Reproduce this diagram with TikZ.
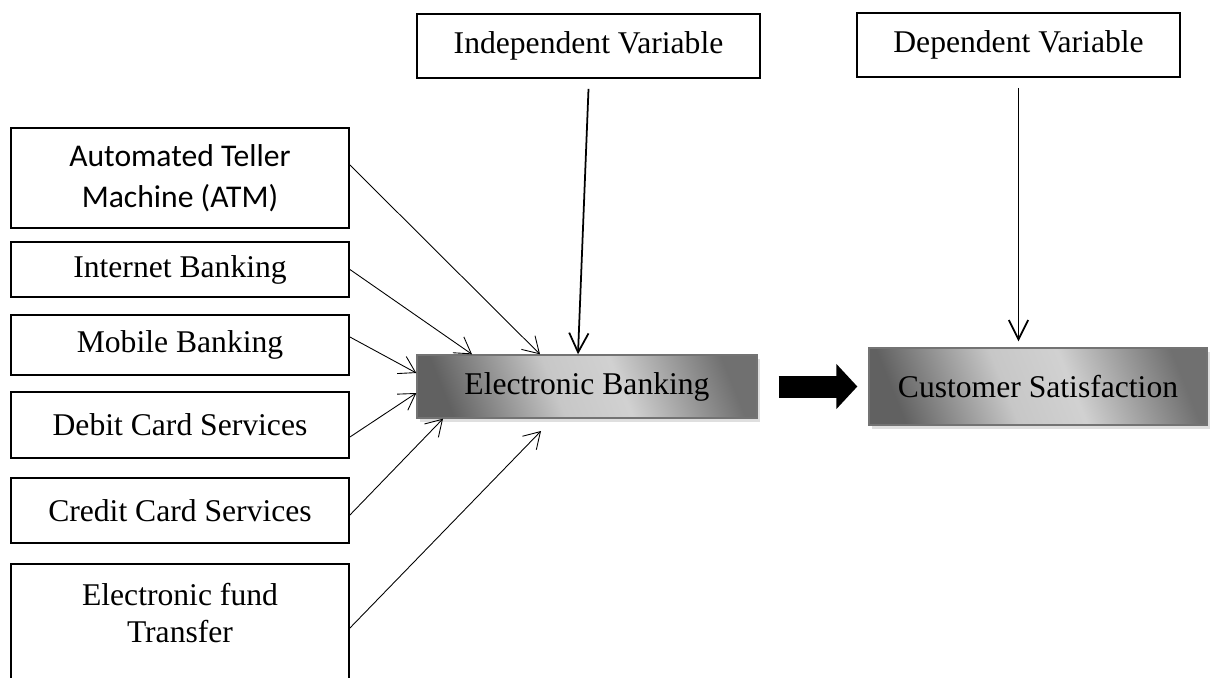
\documentclass[tikz,border=0pt]{standalone}
\usepackage{fontspec}
\setmainfont{Liberation Serif}
\newfontfamily\calibri{Carlito}
\usepackage{tikz}
\usetikzlibrary{positioning, arrows.meta, shadows, calc}
\pgfdeclareverticalshading{ebshade}{100bp}{color(0bp)=(black!62); color(24bp)=(black!62); color(44bp)=(black!22); color(56bp)=(black!18); color(76bp)=(black!56); color(100bp)=(black!56)}
\tikzset{
>={Straight Barb[length=9pt,width=11pt]}, % open arrow heads
every node/.style={font=\fontsize{18}{21}\selectfont},
factor/.style={draw, line width=1.1pt, minimum width=6.76cm, align=center}, % boxes on the left
varbox/.style={draw, line width=1.1pt, minimum height=1.28cm}, % variable labels on top
shadedbox/.style={draw=black!55, line width=0.8pt, shade, shading=ebshade, shading angle=-68,
  drop shadow={shadow xshift=1.5pt, shadow yshift=-2pt, fill=black!25}},
link/.style={line width=0.5pt},
varlink/.style={line width=1pt, >={Straight Barb[length=11pt,width=11pt]}},
}

\begin{document}
\begin{tikzpicture}[x=0.02cm, y=-0.02cm]
\useasboundingbox (0,0) rectangle (1211,677);

% factors
\node[factor, minimum height=2.0cm, font=\calibri\fontsize{18}{23.6}\selectfont] (atm) at (180,178) {Automated Teller\\Machine (ATM)};
\node[factor, minimum height=1.1cm] (inet) at (180,269.5) {Internet Banking};
\node[factor, minimum height=1.2cm] (mob) at (180,345) {Mobile Banking};
\node[factor, minimum height=1.32cm] (debit) at (180,425) {Debit Card Services};
\node[factor, minimum height=1.3cm] (credit) at (180,510.5) {Credit Card Services};
\node[factor, minimum height=2.72cm] (eft) at (180,632) {};
\node[align=center, font=\fontsize{18}{21.5}\selectfont] (efttext) at (180,613) {Electronic fund\\Transfer};

% variables
\node[varbox, minimum width=6.86cm] (indep) at (588.5,46) {Independent Variable};
\node[varbox, minimum width=6.46cm] (dep) at (1018.5,45) {Dependent Variable};
\node[shadedbox, minimum width=6.8cm, minimum height=1.26cm] (eb) at (587,386.5) {Electronic Banking};
\node[shadedbox, minimum width=6.76cm, minimum height=1.54cm] (cs) at (1038,386.5) {Customer Satisfaction};
\coordinate (eftend) at (541,431);

% edges
\path[->] (atm.east |- 0,165) edge [link] (540,0 |- eb.north); % atm to eb
\path[->] (inet.east) edge [link] (472,0 |- eb.north); % inet to eb
\path[->] (mob.east |- 0,337) edge [link] (eb.west |- 0,373); % mob to eb
\path[->] (debit.east |- 0,437) edge [link] (eb.west |- 0,393); % debit to eb
\path[->] (credit.east |- 0,515) edge [link] (443,0 |- eb.south); % credit to eb
\path[->] (eft.east |- 0,628) edge [link] (eftend); % eft to eb
\path[->] ([yshift=-0.2cm]indep.south) edge [varlink] (578,0 |- eb.north); % indep to eb
\path[->] ([yshift=-0.2cm]dep.south) edge [varlink] ($(dep.south |- cs.north)+(0,-6)$); % dep to cs
\draw[line width=0.44cm, -{Triangle[length=0.42cm, width=0.88cm]}] ([xshift=0.42cm]eb.east) -- ([xshift=-0.22cm]cs.west); % eb to cs
\end{tikzpicture}
\end{document}
